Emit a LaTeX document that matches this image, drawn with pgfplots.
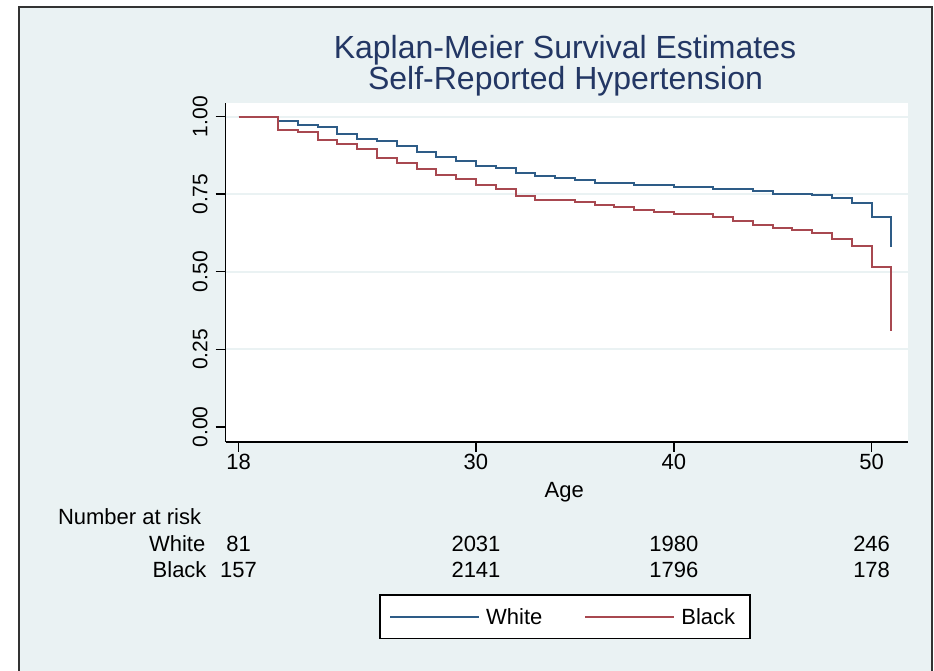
\documentclass[border=0pt]{standalone}
\usepackage{fontspec}
\setmainfont{Liberation Sans}
\usepackage{pgfplots}
\pgfplotsset{compat=1.18}
\usepackage{pgfplotstable}
\definecolor{bgc}{HTML}{EAF2F3}
\definecolor{kmblue}{HTML}{2E5C87}
\definecolor{kmred}{HTML}{A84850}
\definecolor{titlec}{RGB}{35,55,100}

\pgfplotstableread{
age surv
18 1.000
20 0.986
21 0.974
22 0.965
23 0.944
24 0.928
25 0.921
26 0.905
27 0.886
28 0.870
29 0.857
30 0.841
31 0.833
32 0.817
33 0.810
34 0.802
35 0.795
36 0.787
38 0.780
40 0.773
42 0.767
44 0.760
45 0.752
47 0.746
48 0.738
49 0.722
50 0.678
51 0.580
}\whitetab

\pgfplotstableread{
age surv
18 1.000
20 0.956
21 0.949
22 0.926
23 0.913
24 0.896
25 0.868
26 0.852
27 0.831
28 0.811
29 0.799
30 0.780
31 0.767
32 0.745
33 0.731
35 0.724
36 0.716
37 0.708
38 0.700
39 0.692
40 0.685
42 0.678
43 0.663
44 0.650
45 0.641
46 0.634
47 0.626
48 0.605
49 0.582
50 0.516
51 0.308
}\blacktab

\newcommand{\fs}{\fontsize{22}{26}\selectfont}

\begin{document}
\begin{tikzpicture}[x=1pt,y=1pt]
\path[use as bounding box] (0,0) rectangle (934,671);
\fill[white] (0,0) rectangle (934,671);
\fill[bgc] (19,0) rectangle (931.5,664);
\draw[line width=2pt, black!80] (19,0) -- (19,664) -- (931.5,664) -- (931.5,0);
\begin{axis}[
  at={(225.7pt,229pt)}, anchor=south west,
  scale only axis, width=682.3pt, height=339pt,
  xmin=17.35, xmax=51.84, ymin=-0.049, ymax=1.044,
  axis lines=left,
  axis line style={-, line width=1.5pt, black},
  axis background/.style={fill=white},
  xtick={18,30,40,50}, xticklabels={18,30,40,50},
  ytick={0,0.25,0.5,0.75,1}, yticklabels={0.00,0.25,0.50,0.75,1.00},
  tick align=outside, major tick length=10pt,
  tick style={line width=1.5pt, black},
  xticklabel style={font=\fs, inner sep=2pt},
  yticklabel style={font=\fontsize{21}{25}\selectfont, rotate=90, anchor=south, inner sep=8pt},
  legend style={at={(0.4976,-0.516)}, anchor=center, draw=black, line width=1.5pt,
    fill=white, font=\fs, inner xsep=9pt, inner ysep=10pt,
    nodes={inner xsep=6pt, inner ysep=3pt},
    /tikz/every even column/.append style={column sep=36pt}},
  legend columns=2,
  legend image code/.code={\draw[#1, line width=2pt] (0pt,0pt) -- (89pt,0pt);},
]
\foreach \g in {0.25,0.5,0.75,1}{
  \edef\tmp{\noexpand\draw[bgc, line width=2pt] (axis cs:17.35,\g) -- (axis cs:51.84,\g);}\tmp
}
\addplot[const plot, kmblue, line width=2pt] table[x=age,y=surv] {\whitetab};
\addlegendentry{White}
\addplot[const plot, kmred, line width=2pt] table[x=age,y=surv] {\blacktab};
\addlegendentry{Black}
\end{axis}
\node[font=\fontsize{32}{36}\selectfont, text=titlec, anchor=base] at (565,612.5) {Kaplan-Meier Survival Estimates};
\node[font=\fontsize{32}{36}\selectfont, text=titlec, anchor=base] at (565.5,581.3) {Self-Reported Hypertension};
\node[font=\fs, anchor=base] at (564.3,173) {Age};
\node[font=\fs, anchor=base west, inner sep=0pt] at (57.8,146) {Number at risk};
\node[font=\fs, anchor=base east, inner sep=0pt] at (205.5,119) {White};
\node[font=\fs, anchor=base east, inner sep=0pt] at (206.7,93) {Black};
\foreach \x/\a/\b in {238.6/81/157, 476/2031/2141, 673.8/1980/1796, 871.6/246/178}{
  \node[font=\fs, anchor=base, inner sep=0pt] at (\x,119) {\a};
  \node[font=\fs, anchor=base, inner sep=0pt] at (\x,93) {\b};
}
\end{tikzpicture}
\end{document}
